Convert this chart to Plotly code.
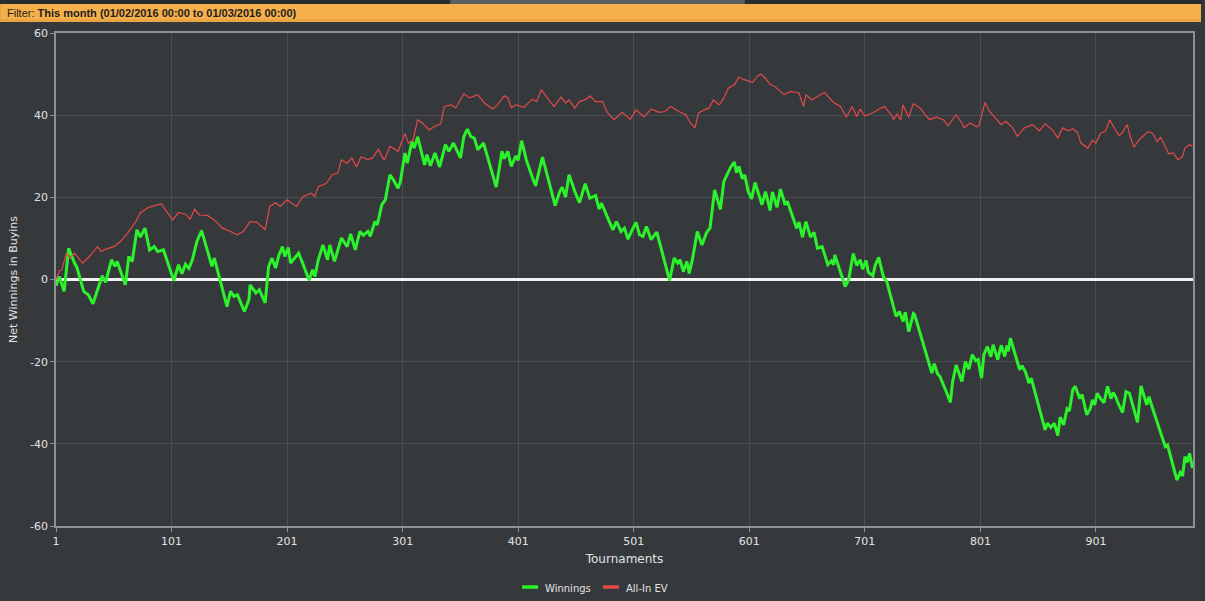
import plotly.graph_objects as go

# ---------------- data ----------------
win_x = [1, 4, 8, 12, 17, 19, 25, 29, 33, 38, 41, 44, 49, 52, 54, 57, 61, 64, 67, 71, 74, 78, 82, 86, 89, 94,
         103, 107, 110, 113, 116, 119, 123, 127, 130, 136, 138, 149, 152, 155, 158, 164, 168, 169, 174, 177,
         182, 185, 188, 191, 194, 197, 199, 202, 204, 211, 215, 220, 223, 225, 228, 232, 236, 238, 242, 245,
         248, 253, 256, 260, 264, 267, 271, 273, 277, 279, 281, 283, 286, 290, 293, 297, 299, 303, 305, 309,
         311, 314, 320, 322, 325, 329, 333, 336, 338, 341, 345, 351, 354, 357, 360, 363, 366, 371, 378, 382,
         387, 389, 392, 395, 399, 401, 404, 408, 414, 416, 419, 422, 433, 437, 439, 442, 445, 450, 454, 459,
         463, 468, 471, 473, 478, 480, 483, 486, 490, 493, 496, 499, 503, 506, 509, 512, 516, 518, 521, 532,
         536, 539, 541, 544, 547, 549, 552, 556, 560, 564, 567, 571, 576, 579, 582, 585, 588, 590, 592, 595,
         597, 600, 603, 606, 612, 615, 619, 621, 625, 628, 632, 634, 642, 644, 647, 650, 654, 657, 660, 664,
         669, 672, 674, 675, 684, 687, 691, 694, 697, 699, 702, 704, 708, 710, 713, 717, 720, 728, 731, 734,
         736, 739, 743, 744, 759, 761, 764, 766, 772, 775, 777, 780, 785, 788, 791, 794, 797, 799, 802, 804,
         807, 810, 812, 816, 819, 822, 824, 825, 827, 835, 837, 840, 843, 845, 857, 859, 862, 865, 868, 870,
         873, 876, 878, 881, 883, 887, 889, 893, 896, 898, 900, 902, 905, 908, 911, 914, 916, 918, 920, 924,
         927, 930, 937, 940, 945, 947, 949, 961, 963, 971, 974, 976, 978, 980, 982, 984.5]
win_y = [-1.5, 0.7, -2.9, 7.6, 4.0, 3.0, -2.9, -3.7, -5.9, -1.3, 0.9, -0.7, 4.8, 3.2, 4.4, 1.9, -1.3, 5.6, 4.4,
         12.1, 10.3, 12.5, 7.2, 8.0, 6.8, 7.2, -0.3, 3.6, 1.4, 3.7, 2.7, 4.8, 9.3, 11.9, 8.9, 3.2, 5.2, -6.6,
         -2.9, -4.1, -3.7, -7.8, -4.9, -1.3, -3.3, -2.5, -5.7, 3.2, 5.2, 2.8, 6.0, 8.0, 5.6, 7.8, 4.0, 6.4,
         3.6, -0.2, 2.4, 0.7, 4.8, 8.4, 4.8, 8.4, 4.4, 7.2, 10.1, 8.0, 11.1, 7.2, 11.7, 10.8, 11.7, 10.5,
         14.1, 13.3, 15.8, 18.2, 19.4, 25.5, 24.3, 22.2, 23.8, 30.8, 28.3, 33.6, 32.0, 34.7, 27.9, 30.4, 27.7,
         30.8, 27.4, 30.4, 32.8, 31.2, 33.2, 29.6, 34.8, 36.6, 34.8, 34.4, 31.6, 33.2, 26.7, 22.5, 31.2, 29.4,
         31.2, 27.5, 30.1, 29.0, 33.8, 29.1, 24.3, 22.8, 26.3, 29.8, 18.0, 21.4, 22.5, 20.1, 25.5, 21.4, 18.7,
         23.3, 19.8, 20.4, 17.1, 18.6, 15.3, 14.1, 12.1, 14.1, 11.7, 12.5, 9.8, 11.7, 13.9, 10.9, 10.5, 12.9,
         9.7, 10.5, 11.5, -0.2, 5.2, 4.0, 4.8, 1.9, 4.4, 1.5, 5.2, 11.7, 8.4, 11.4, 12.5, 21.8, 17.1, 23.9,
         25.5, 27.4, 28.6, 26.0, 27.5, 24.5, 25.5, 21.5, 19.6, 23.6, 18.2, 21.4, 16.8, 21.3, 17.6, 22.0, 18.2,
         19.0, 12.5, 14.0, 10.3, 14.1, 10.3, 11.5, 7.6, 8.0, 3.6, 4.5, 3.6, 6.0, -1.7, 0.0, 6.3, 3.4, 4.8,
         2.5, 4.6, 1.8, 0.9, 3.5, 5.4, 0.7, -0.5, -9.0, -7.8, -10.2, -8.0, -12.7, -8.3, -8.5, -22.8, -20.5,
         -23.0, -23.6, -27.7, -29.9, -24.8, -20.8, -24.8, -20.0, -21.8, -18.3, -19.8, -19.5, -24.0, -18.3,
         -16.3, -18.8, -15.9, -19.5, -16.0, -18.7, -16.1, -17.5, -14.3, -22.0, -21.0, -22.5, -25.2, -24.0,
         -36.6, -35.0, -36.0, -35.0, -38.0, -33.5, -35.4, -31.5, -32.0, -26.8, -26.0, -29.0, -28.0, -32.9,
         -31.5, -29.3, -30.5, -27.7, -29.0, -30.0, -26.0, -29.0, -27.5, -28.5, -30.0, -32.4, -27.3, -27.7,
         -34.8, -25.9, -30.5, -28.5, -30.5, -40.7, -40.3, -48.8, -47.0, -47.8, -43.1, -44.5, -42.3, -45.9]

ev_x = [1, 4, 6, 10, 13, 17, 24, 30, 37, 40, 44, 51, 57, 63, 70, 74, 80, 84, 92, 96, 102, 107, 113, 117, 121,
        125, 132, 138, 145, 152, 158, 163, 169, 175, 182, 186, 191, 195, 201, 209, 215, 222, 225, 228, 235,
        240, 245, 248, 253, 257, 261, 265, 271, 275, 280, 285, 290, 297, 303, 306, 310, 314, 318, 324, 329,
        334, 337, 343, 347, 354, 359, 366, 372, 379, 383, 389, 392, 395, 399, 406, 413, 417, 421, 427, 432,
        438, 442, 445, 450, 454, 460, 463, 468, 474, 478, 484, 491, 498, 503, 510, 516, 523, 528, 533, 540,
        546, 550, 554, 557, 562, 566, 570, 575, 579, 583, 588, 592, 596, 599, 604, 608, 611, 615, 619, 623,
        626, 631, 637, 644, 648, 650, 655, 666, 674, 680, 685, 690, 694, 697, 701, 708, 714, 718, 723, 726,
        729, 732, 734, 739, 743, 749, 753, 757, 763, 769, 773, 780, 785, 787, 792, 798, 800, 805, 809, 815,
        819, 823, 829, 833, 839, 846, 852, 857, 864, 868, 872, 877, 881, 885, 888, 894, 898, 901, 905, 909,
        913, 916, 921, 924, 928, 931, 934, 938, 946, 950, 954, 957, 964, 968, 972, 976, 978, 982, 984.5]
ev_y = [0.0, 2.2, 2.3, 6.4, 5.2, 6.4, 4.0, 5.6, 8.0, 6.8, 7.4, 8.0, 9.3, 11.3, 14.1, 16.2, 17.4, 17.8, 18.4,
        16.8, 14.5, 16.3, 15.9, 14.7, 17.1, 15.7, 15.6, 14.5, 12.5, 11.7, 10.9, 11.7, 14.1, 13.9, 12.1, 17.8,
        18.7, 17.8, 19.4, 17.8, 20.2, 21.0, 20.2, 22.6, 23.4, 25.5, 25.9, 29.1, 28.3, 29.6, 27.4, 29.9, 29.2,
        29.6, 31.7, 29.0, 32.4, 31.2, 35.5, 33.2, 34.0, 38.9, 38.1, 36.4, 37.3, 37.9, 42.1, 42.5, 41.8, 45.2,
        44.2, 45.0, 42.9, 41.5, 42.5, 44.7, 44.2, 41.8, 42.5, 41.9, 43.9, 43.3, 46.2, 43.9, 42.1, 44.4, 43.0,
        43.7, 41.7, 43.3, 43.9, 44.7, 43.3, 43.3, 40.7, 38.9, 40.7, 39.0, 41.3, 39.6, 41.5, 40.7, 40.9, 42.1,
        40.9, 40.1, 38.1, 36.9, 40.5, 41.3, 41.7, 43.7, 42.5, 44.2, 46.6, 47.4, 49.3, 48.7, 48.5, 48.0, 49.5,
        50.0, 49.0, 47.5, 47.0, 46.2, 45.0, 45.8, 45.4, 42.1, 45.0, 43.7, 45.5, 43.1, 42.1, 39.5, 42.1, 39.7,
        41.5, 39.8, 40.6, 41.6, 42.1, 40.4, 39.0, 40.3, 38.8, 42.5, 39.5, 42.8, 41.7, 40.2, 38.9, 39.5, 38.9,
        37.4, 40.1, 38.1, 36.9, 38.1, 37.1, 37.7, 43.1, 40.9, 38.9, 37.7, 38.5, 36.9, 34.8, 36.9, 37.7, 36.2,
        37.9, 36.2, 34.4, 36.9, 36.2, 36.7, 35.8, 33.2, 32.0, 33.9, 33.2, 35.6, 36.0, 38.9, 37.3, 35.0, 35.8,
        37.7, 34.5, 32.2, 33.9, 36.0, 35.6, 33.6, 34.6, 30.6, 30.8, 29.1, 29.9, 32.0, 32.8, 32.4]

x_ticks = [1, 101, 201, 301, 401, 501, 601, 701, 801, 901]
y_ticks = [-60, -40, -20, 0, 20, 40, 60]
y_ticktext = ["-60", "-40", "-20", "0", "20", "40", "60"]
series_names = ["Winnings", "All-In EV"]
filter_label = "Filter: "
filter_text = "This month (01/02/2016 00:00 to 01/03/2016 00:00)"

# ---------------- styling ----------------
BG = "#36393c"
GRID = "#4a4d51"
AXIS = "#8e9194"
TXT = "#e2e2e2"
GREEN = "#2bf22b"
RED = "#e2494a"
FONT = "DejaVu Sans"

W, H = 1205, 601
ML, MR, MT, MB = 56, 10, 33, 75
PW, PH = W - ML - MR, H - MT - MB


def px_to_paper_x(px):
    return (px - ML) / PW


def px_to_paper_y(py):
    return (H - MB - py) / PH


fig = go.Figure()
fig.add_trace(go.Scatter(x=win_x, y=win_y, mode="lines", name=series_names[0],
                         line=dict(color=GREEN, width=3), showlegend=False))
fig.add_trace(go.Scatter(x=ev_x, y=ev_y, mode="lines", name=series_names[1],
                         line=dict(color=RED, width=1.2), showlegend=False))

shapes = [
    # top dark strip + tab
    dict(type="rect", xref="paper", yref="paper", x0=px_to_paper_x(0), x1=px_to_paper_x(W),
         y0=px_to_paper_y(4), y1=px_to_paper_y(0), fillcolor="#2a2c2f", line_width=0, layer="above"),
    dict(type="rect", xref="paper", yref="paper", x0=px_to_paper_x(451), x1=px_to_paper_x(746),
         y0=px_to_paper_y(4), y1=px_to_paper_y(0), fillcolor="#5c5e61", line_width=0, layer="above"),
    # orange filter bar
    dict(type="rect", xref="paper", yref="paper", x0=px_to_paper_x(0), x1=px_to_paper_x(1203),
         y0=px_to_paper_y(22), y1=px_to_paper_y(4), fillcolor="#f5b04b", line_width=0, layer="above"),
    dict(type="rect", xref="paper", yref="paper", x0=px_to_paper_x(0), x1=px_to_paper_x(1203),
         y0=px_to_paper_y(22), y1=px_to_paper_y(19), fillcolor="#e9a443", line_width=0, layer="above"),
    # custom legend swatches
    dict(type="line", xref="paper", yref="paper", x0=px_to_paper_x(523), x1=px_to_paper_x(539),
         y0=px_to_paper_y(587), y1=px_to_paper_y(587), line=dict(color=GREEN, width=3.5)),
    dict(type="line", xref="paper", yref="paper", x0=px_to_paper_x(604), x1=px_to_paper_x(620),
         y0=px_to_paper_y(587), y1=px_to_paper_y(587), line=dict(color=RED, width=3.5)),
]

annotations = [
    dict(xref="paper", yref="paper", x=px_to_paper_x(5), y=px_to_paper_y(13), xanchor="left",
         yanchor="middle", showarrow=False, text=filter_label + "<b>" + filter_text + "</b>",
         font=dict(family="Liberation Sans", size=11, color="#1e1e1e")),
    dict(xref="paper", yref="paper", x=px_to_paper_x(544), y=px_to_paper_y(588), xanchor="left",
         yanchor="middle", showarrow=False, text=series_names[0],
         font=dict(family=FONT, size=10, color=TXT)),
    dict(xref="paper", yref="paper", x=px_to_paper_x(625), y=px_to_paper_y(588), xanchor="left",
         yanchor="middle", showarrow=False, text=series_names[1],
         font=dict(family=FONT, size=10, color=TXT)),
]

fig.update_layout(
    width=W, height=H,
    margin=dict(l=ML, r=MR, t=MT, b=MB, pad=0),
    paper_bgcolor=BG, plot_bgcolor=BG,
    font=dict(family=FONT, size=11, color=TXT),
    shapes=shapes, annotations=annotations,
    xaxis=dict(range=[1, 985], tickvals=x_ticks, showgrid=True, gridcolor=GRID, gridwidth=1,
               zeroline=False, showline=True, linecolor=AXIS, linewidth=1.5, mirror=True,
               ticks="outside", ticklen=4, tickcolor=AXIS,
               tickfont=dict(family=FONT, size=11, color=TXT),
               title=dict(text="Tournaments", standoff=8, font=dict(family=FONT, size=12, color=TXT))),
    yaxis=dict(range=[-60, 60], tickvals=y_ticks, ticktext=y_ticktext, showgrid=True, gridcolor=GRID,
               gridwidth=1, zeroline=True, zerolinecolor="#f2f2f2", zerolinewidth=2.5,
               showline=True, linecolor=AXIS, linewidth=1.5, mirror=True,
               ticks="outside", ticklen=4, tickcolor=AXIS,
               tickfont=dict(family=FONT, size=11, color=TXT),
               title=dict(text="Net Winnings in Buyins", standoff=10,
                          font=dict(family=FONT, size=11, color=TXT))),
)

fig.write_html(
    "out.html",
    config={"displayModeBar": False},
    post_script="document.body.style.margin='0';document.body.style.overflow='hidden';"
                "document.body.style.background='" + BG + "';",
)
